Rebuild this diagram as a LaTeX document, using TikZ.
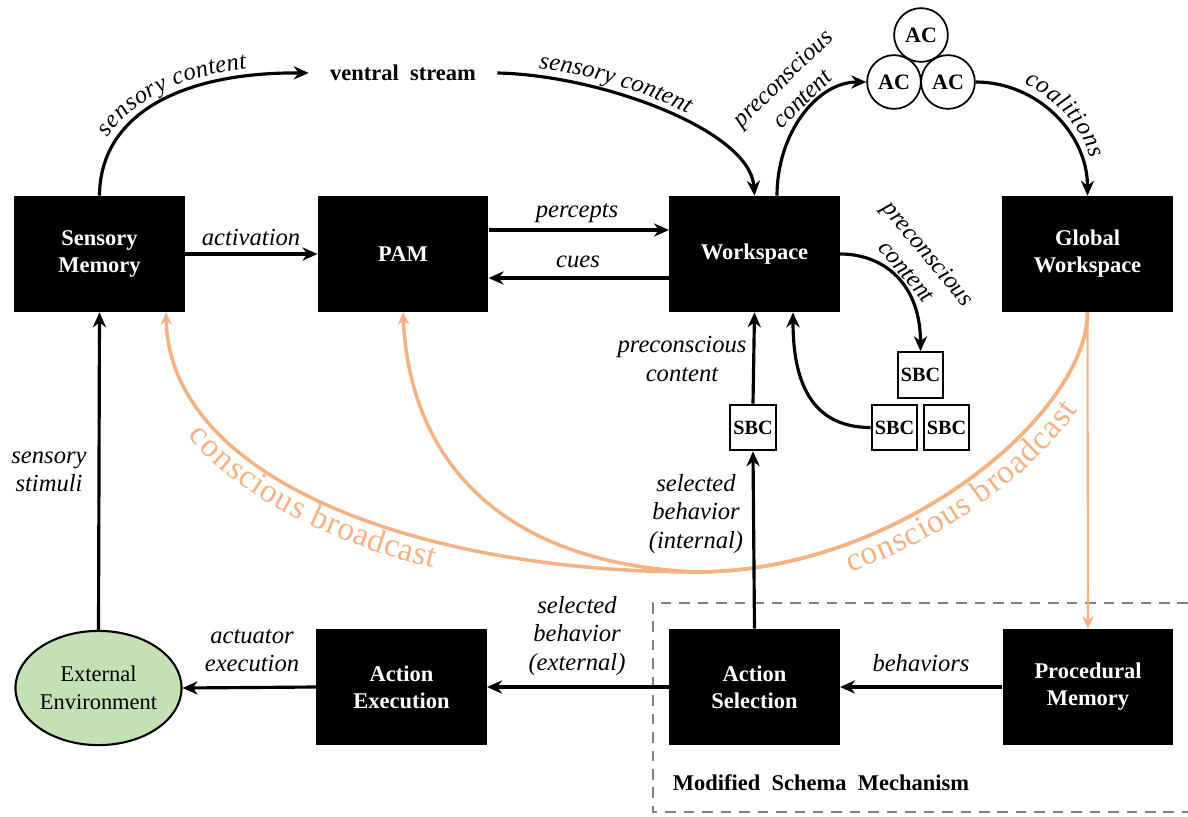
\documentclass[tikz,border=0pt]{standalone}
\usepackage{fontspec}
\setmainfont{Liberation Serif}
\usetikzlibrary{arrows.meta,decorations.text,calc,shapes.geometric}
\definecolor{bcast}{HTML}{F4B183}
\definecolor{envgreen}{HTML}{C5E0B4}
\definecolor{frame}{HTML}{808080}
\begin{document}
\begin{tikzpicture}[x=0.02cm,y=-0.02cm,
  module/.style={fill=black,text=white,minimum width=97pt,minimum height=66pt,inner sep=0pt,align=center,
    font=\bfseries\fontsize{12.8}{15.3}\selectfont},
  coal/.style={circle,draw=black,line width=1pt,minimum size=30.6pt,inner sep=0pt,font=\bfseries\fontsize{12.5}{14}\selectfont},
  sbcbox/.style={draw=black,line width=1.1pt,minimum size=26pt,inner sep=0pt,font=\bfseries\fontsize{11.5}{13}\selectfont},
  lbl/.style={font=\itshape\fontsize{14}{16}\selectfont,align=center,inner sep=1pt},
  flow/.style={line width=1.8pt,-{Stealth[length=8.5pt,width=7.5pt,inset=2.7pt]}},
  bflow/.style={line width=2pt,draw=bcast,-{Stealth[length=7pt,width=6.5pt,inset=2.2pt]}},
  curvetext/.style={decorate,decoration={text along path,raise=4.5pt,
    text format delimiters={|}{|}}}
]
\useasboundingbox (0,0) rectangle (1188,816);

% modules
\node[module] (sm)  at (99.5,254)  {Sensory\\Memory};
\node[module] (pam) at (403,254)   {PAM};
\node[module] (ws)  at (754.5,254) {Workspace};
\node[module] (gw)  at (1087.5,254) {Global\\Workspace};
\node[module] (ae)  at (401.5,687) {Action\\Execution};
\node[module] (as)  at (754.5,687) {Action\\Selection};
\node[module] (pm)  at (1088,687)  {Procedural\\Memory};

\node[ellipse,draw=black,line width=1.2pt,fill=envgreen,minimum width=93.5pt,minimum height=65pt,
  inner sep=0pt,align=center,font=\fontsize{12.8}{16}\selectfont] (env) at (98.5,688) {External\\Environment};

\node[font=\bfseries\fontsize{12.8}{15}\selectfont,inner xsep=12pt] (vs) at (403,73) {ventral\ \ stream};

% attention codelets
\node[coal] (ac1) at (921,35) {AC};
\node[coal] (ac2) at (894,82) {AC};
\node[coal] (ac3) at (948,82) {AC};

% structure-building codelets
\node[sbcbox] (sbc) at (753,427.5)   {SBC};
\node[sbcbox] (sb1) at (920.5,375)   {SBC};
\node[sbcbox] (sb2) at (894.5,427.5) {SBC};
\node[sbcbox] (sb3) at (946.5,427.5) {SBC};

% schema mechanism frame (open to the right)
\draw[frame,line width=1.1pt,dash pattern=on 6pt off 4.5pt] (1188,603) -- (653,603) -- (653,812) -- (1188,812);
\node[font=\bfseries\fontsize{12.8}{15}\selectfont,inner sep=0pt] (msm) at (821,783) {Modified\ \ Schema\ \ Mechanism};

% conscious broadcast
\coordinate (low) at (696,572);
\draw[bflow] (gw.south) .. controls (1087.5,413) and (900,572) .. (low)
  .. controls (420,572) and (170,480) .. ($(sm.south)+(66.5,0)$);
\draw[bflow] (gw.south) .. controls (1087.5,413) and (900,572) .. (low)
  .. controls (500,563) and (410,460) .. (pam.south);
\draw[line width=1.2pt,draw=bcast,-{Stealth[length=7pt,width=6.5pt,inset=2.2pt]}] (gw.south) -- (pm.north);
\path[curvetext,decoration={text={|\fontsize{19}{22}\selectfont|conscious broadcast},text color=bcast,
  raise=-15pt,text align={left indent=66pt}}]
  ($(sm.south)+(66.5,0)$) .. controls (170,480) and (420,572) .. (low);
\path[curvetext,decoration={text={|\fontsize{19}{22}\selectfont|conscious broadcast},text color=bcast,
  raise=-15.5pt,text align={left indent=84pt}}]
  (low) .. controls (900,572) and (1087.5,413) .. (gw.south);

% ventral stream route
\draw[flow] (sm.north) .. controls (100,115) and (180,72) .. (vs.west);
\path[curvetext,decoration={text={|\itshape\fontsize{14}{16}\selectfont|sensory content},text align={left indent=32pt}}]
  (sm.north) .. controls (100,115) and (180,72) .. (vs.west);
\draw[flow] (vs.east) .. controls (600,75) and (750,130) .. (ws.north);
\path[curvetext,decoration={text={|\itshape\fontsize{14}{16}\selectfont|sensory content},text align={left indent=23pt},raise=4.5pt}]
  (vs.east) .. controls (600,75) and (750,130) .. (ws.north);

% workspace to attention codelets to global workspace
\draw[flow] ($(ws.north)+(22.5,0)$) .. controls (777,133) and (817,82) .. (ac2.west);
\node[lbl,rotate=44] (pc1) at (792,88) {preconscious\\content};
\draw[flow] (ac3.east) .. controls (1037,82) and (1087.5,133) .. (gw.north);
\path[curvetext,decoration={text={|\itshape\fontsize{14}{16}\selectfont|coalitions},text align={left indent=26pt},raise=5pt}]
  (ac3.east) .. controls (1037,82) and (1087.5,133) .. (gw.north);

% perceptual loop
\draw[flow] (sm.east) -- (pam.west);
\node[lbl] (lact) at (251,237) {activation};
\draw[flow] ($(pam.east)+(0,-24)$) -- ($(ws.west)+(0,-24)$);
\node[lbl] (lper) at (577,213) {percepts};
\draw[flow] ($(ws.west)+(0,24)$) -- ($(pam.east)+(0,24)$);
\node[lbl] (lcue) at (578,262) {cues};

% structure-building loop
\draw[flow] (ws.east) .. controls (885,254) and (920.5,285) .. (sb1.north);
\node[lbl,rotate=-50] (pc2) at (918,262) {preconscious\\content};
\draw[flow] (sb2.west) .. controls (810,427.5) and (793,380) .. ($(ws.south)+(38.5,0)$);

% action loop
\draw[flow] (as.north) -- (sbc.south);
\draw[flow] (sbc.north) -- (ws.south);
\node[lbl] (pc3) at (682,359) {preconscious\\content};
\node[lbl] (lsi) at (696,514) {selected\\behavior\\(internal)};
\draw[flow] (pm.west) -- (as.east);
\node[lbl] (lbeh) at (921,663) {behaviors};
\draw[flow] (as.west) -- (ae.east);
\node[lbl] (lse) at (577,636) {selected\\behavior\\(external)};
\draw[flow] (ae.west) -- (env.east);
\node[lbl] (lact2) at (252,651) {actuator\\execution};
\draw[flow] (env.north) -- (sm.south);
\node[lbl] (lstim) at (49,472) {sensory\\stimuli};
\end{tikzpicture}
\end{document}
